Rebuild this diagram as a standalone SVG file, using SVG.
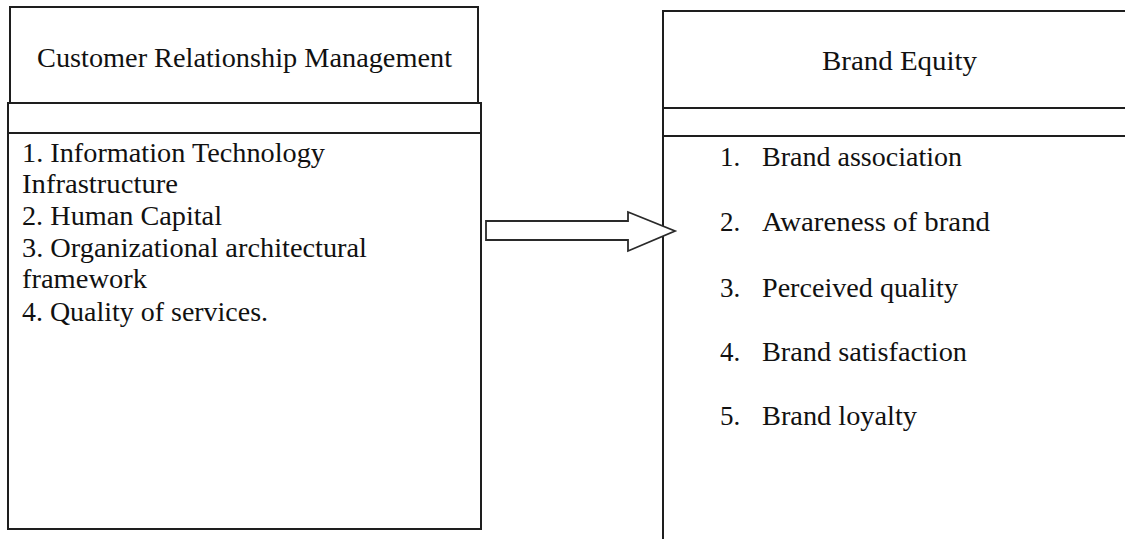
<svg xmlns="http://www.w3.org/2000/svg" width="1125" height="539" viewBox="0 0 1125 539">
<style>
.box{fill:#ffffff;stroke:#1e1e1e;stroke-width:2}
.t{font-family:"Liberation Serif","Times New Roman",serif;font-size:27px;fill:#111111}
</style>
<rect x="0" y="0" width="1125" height="539" fill="#ffffff"/>
<g id="crm">
<rect class="box" x="10" y="7" width="468" height="96"/>
<rect class="box" x="8" y="103" width="473" height="30"/>
<rect class="box" x="8" y="133" width="473" height="396"/>
<text class="t" x="37" y="67" textLength="415" lengthAdjust="spacingAndGlyphs">Customer Relationship Management</text>
<text class="t" x="22" y="162" textLength="303" lengthAdjust="spacingAndGlyphs">1. Information Technology</text>
<text class="t" x="22" y="193" textLength="156" lengthAdjust="spacingAndGlyphs">Infrastructure</text>
<text class="t" x="22" y="225" textLength="200" lengthAdjust="spacingAndGlyphs">2. Human Capital</text>
<text class="t" x="22" y="257" textLength="345" lengthAdjust="spacingAndGlyphs">3. Organizational architectural</text>
<text class="t" x="22" y="288" textLength="125" lengthAdjust="spacingAndGlyphs">framework</text>
<text class="t" x="22" y="321" textLength="246" lengthAdjust="spacingAndGlyphs">4. Quality of services.</text>
</g>
<g id="brand-equity">
<rect class="box" x="663" y="11" width="470" height="97"/>
<rect class="box" x="663" y="108" width="470" height="28"/>
<rect class="box" x="663" y="136" width="470" height="420"/>
<text class="t" x="822" y="70" textLength="155" lengthAdjust="spacingAndGlyphs">Brand Equity</text>
<text class="t" x="720" y="166">1.</text>
<text class="t" x="762" y="166" textLength="200" lengthAdjust="spacingAndGlyphs">Brand association</text>
<text class="t" x="720" y="231">2.</text>
<text class="t" x="762" y="231" textLength="228" lengthAdjust="spacingAndGlyphs">Awareness of brand</text>
<text class="t" x="720" y="297">3.</text>
<text class="t" x="762" y="297" textLength="196" lengthAdjust="spacingAndGlyphs">Perceived quality</text>
<text class="t" x="720" y="361">4.</text>
<text class="t" x="762" y="361" textLength="205" lengthAdjust="spacingAndGlyphs">Brand satisfaction</text>
<text class="t" x="720" y="425">5.</text>
<text class="t" x="762" y="425" textLength="155" lengthAdjust="spacingAndGlyphs">Brand loyalty</text>
</g>
<g id="connectors">
<polygon points="486,221 628,221 628,212 675,231 628,251 628,240 486,240" fill="#ffffff" stroke="#2a2a2a" stroke-width="1.8" stroke-linejoin="miter"/>
</g>
</svg>
